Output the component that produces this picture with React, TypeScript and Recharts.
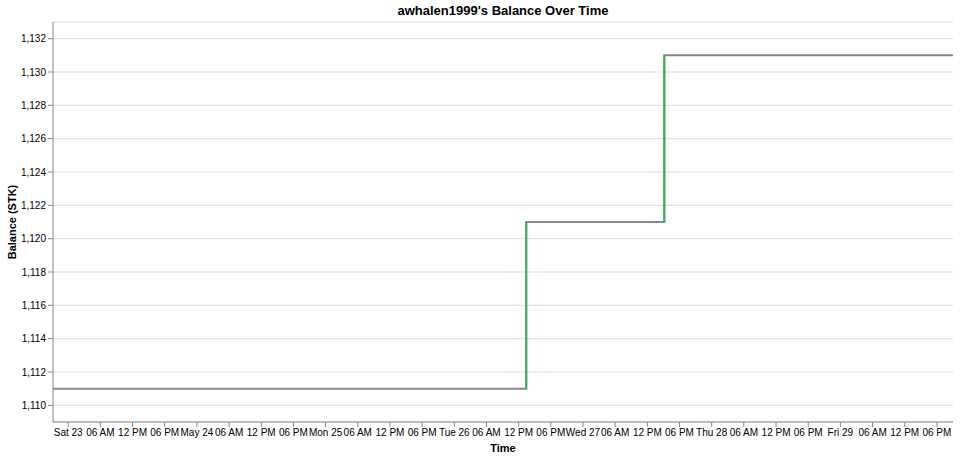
import { LineChart, Line, XAxis, YAxis, CartesianGrid } from "recharts";

// balance history (UTC timestamps)
const times = [
  "2020-05-22T21:10:00Z",
  "2020-05-26T13:25:00Z",
  "2020-05-27T15:10:00Z",
  "2020-05-29T21:00:00Z",
];
const balances = [1111, 1121, 1131, 1131];

const yTicks = [1110, 1112, 1114, 1116, 1118, 1120, 1122, 1124, 1126, 1128, 1130, 1132];

const tickStart = "2020-05-23T00:00:00Z";
const tickCount = 28; // every 6 hours

const DAYS = ["Sun", "Mon", "Tue", "Wed", "Thu", "Fri", "Sat"];
const MONTHS = ["Jan", "Feb", "Mar", "Apr", "May", "Jun", "Jul", "Aug", "Sep", "Oct", "Nov", "Dec"];

const data = times.map((t, i) => ({ t: Date.parse(t), balance: balances[i] }));

// vertical jumps drawn in green
const rises = data.slice(1).filter((d, i) => d.balance !== data[i].balance).map((d, i, arr) => {
  const prev = data[data.indexOf(d) - 1];
  return [
    { t: d.t, balance: prev.balance },
    { t: d.t, balance: d.balance },
  ];
});

const xTicks = Array.from({ length: tickCount }, (_, i) => Date.parse(tickStart) + i * 6 * 3600 * 1000);

const pad = (n: number) => String(n).padStart(2, "0");

function fmtTime(v: number) {
  const d = new Date(v);
  const h = d.getUTCHours();
  if (h === 0) {
    if (d.getUTCDay() === 0) return `${MONTHS[d.getUTCMonth()]} ${pad(d.getUTCDate())}`;
    return `${DAYS[d.getUTCDay()]} ${pad(d.getUTCDate())}`;
  }
  const h12 = h % 12 === 0 ? 12 : h % 12;
  return `${pad(h12)} ${h < 12 ? "AM" : "PM"}`;
}

const font = "'Liberation Sans', Arial, sans-serif";

export default function App() {
  return (
    <div style={{ position: "absolute", left: 0, top: 0, width: 960, height: 459, fontFamily: font, background: "#fff" }}>
      <div style={{ position: "absolute", left: 53, width: 900, top: 3, textAlign: "center", fontWeight: "bold", fontSize: 13, lineHeight: "16px" }}>
        awhalen1999's Balance Over Time
      </div>
      <div style={{ position: "absolute", left: 53, width: 900, top: 441, textAlign: "center", fontWeight: "bold", fontSize: 11, lineHeight: "14px" }}>
        Time
      </div>
      <div
        style={{
          position: "absolute",
          left: 12,
          top: 222,
          transform: "translate(-50%, -50%) rotate(-90deg)",
          whiteSpace: "nowrap",
          fontWeight: "bold",
          fontSize: 11,
          lineHeight: "14px",
        }}
      >
        Balance (STK)
      </div>
      <LineChart width={960} height={459} data={data} margin={{ top: 22, right: 7, bottom: 0, left: 0 }}>
        <CartesianGrid vertical={false} stroke="#ddd" />
        <XAxis
          dataKey="t"
          type="number"
          scale="time"
          domain={["dataMin", "dataMax"]}
          ticks={xTicks}
          interval={0}
          tickFormatter={fmtTime}
          height={37}
          stroke="#888"
          tickSize={5}
          tickMargin={2}
          tick={{ fill: "#000", fontSize: 10, fontFamily: font }}
        />
        <YAxis
          dataKey="balance"
          type="number"
          domain={[1109, 1133]}
          ticks={yTicks}
          interval={0}
          width={53}
          tickFormatter={(v: number) => v.toLocaleString("en-US")}
          stroke="#888"
          tickSize={5}
          tickMargin={2}
          tick={{ fill: "#000", fontSize: 10, fontFamily: font }}
        />
        <Line
          type="stepAfter"
          dataKey="balance"
          stroke="#7f8a96"
          strokeWidth={2}
          dot={false}
          isAnimationActive={false}
        />
        {rises.map((seg, i) => (
          <Line
            key={i}
            data={seg}
            type="linear"
            dataKey="balance"
            stroke="#3cb44b"
            strokeWidth={2}
            dot={false}
            isAnimationActive={false}
          />
        ))}
      </LineChart>
    </div>
  );
}
